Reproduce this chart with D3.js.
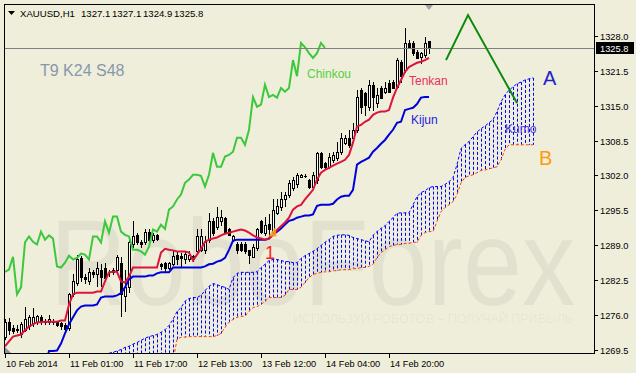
<!DOCTYPE html>
<html><head><meta charset="utf-8">
<script src="https://cdn.jsdelivr.net/npm/d3@7"></script>
<style>
html,body{margin:0;padding:0;background:#efeedb;}
svg{display:block;}
text{font-family:"Liberation Sans",Arial,sans-serif;}
</style></head><body>
<svg id="c" width="636" height="373"></svg>
<script>
// ---------- DATA (XAUUSD H1) ----------
const opens = [1271.8,1274.6,1273.6,1273.1,1272.3,1273.2,1273.8,1274.4,1274.6,1275.5,
1274.7,1274.6,1274.9,1274.6,1274.4,1274.0,1273.6,1279.8,1282.0,1286.5,
1283.1,1282.2,1283.9,1283.5,1284.4,1284.8,1283.9,1283.9,1284.4,1285.7,
1279.4,1281.1,1289.1,1290.9,1289.6,1289.5,1291.5,1290.0,1290.8,1285.4,
1285.7,1284.8,1285.4,1287.2,1287.0,1286.3,1286.3,1287.0,1287.8,1288.1,
1288.1,1290.0,1293.4,1292.4,1293.4,1294.1,1291.9,1290.0,1289.1,1289.1,
1289.1,1288.1,1286.8,1288.5,1293.4,1291.3,1293.0,1291.5,1295.0,1296.0,
1297.5,1298.4,1299.7,1300.3,1301.7,1301.9,1301.2,1299.9,1301.2,1306.2,
1304.3,1303.6,1304.9,1305.3,1306.4,1308.1,1309.0,1309.0,1310.5,1317.9,
1317.4,1314.8,1318.9,1315.5,1318.3,1317.6,1319.3,1319.4,1318.5,1323.2,
1321.7,1326.7,1326.7,1325.0,1324.1,1324.5,1327.1];
const highs = [1275.1,1275.3,1274.0,1274.0,1274.6,1277.5,1275.9,1277.3,1276.0,1276.0,
1275.1,1276.0,1275.1,1274.9,1274.7,1274.4,1280.1,1283.5,1287.2,1287.0,
1283.5,1284.8,1284.4,1285.9,1285.4,1285.7,1284.4,1284.8,1287.2,1286.8,
1284.4,1290.0,1293.4,1291.3,1290.0,1291.9,1291.9,1291.3,1291.1,1285.7,
1285.9,1285.9,1287.8,1287.8,1287.6,1287.8,1287.8,1287.2,1291.9,1291.9,
1290.6,1295.0,1294.1,1296.0,1295.6,1294.3,1292.2,1290.9,1289.5,1289.6,
1289.5,1288.1,1289.1,1292.2,1293.7,1294.3,1294.7,1297.5,1297.5,1298.8,
1298.9,1301.2,1301.7,1302.5,1302.3,1302.3,1301.4,1302.7,1306.4,1306.4,
1304.5,1306.2,1306.4,1308.3,1309.9,1309.6,1310.5,1311.8,1317.9,1318.3,
1317.6,1319.8,1319.4,1318.3,1318.7,1319.4,1319.8,1319.8,1323.9,1323.5,
1329.5,1327.3,1327.1,1325.4,1325.0,1327.8,1327.1];
const lows = [1271.4,1272.3,1272.5,1272.7,1271.9,1272.9,1273.4,1273.8,1274.2,1274.2,
1274.2,1274.2,1274.2,1273.8,1273.4,1273.1,1273.2,1279.4,1281.6,1282.2,
1282.0,1281.8,1283.1,1281.3,1281.3,1282.2,1283.3,1283.5,1283.9,1275.7,
1276.6,1280.3,1288.7,1289.1,1288.7,1289.1,1289.5,1289.5,1290.0,1284.6,
1284.1,1284.6,1285.2,1285.4,1285.0,1285.7,1286.1,1286.1,1287.6,1287.8,
1287.6,1289.6,1290.9,1291.9,1292.8,1291.3,1290.8,1289.8,1287.6,1287.8,
1287.6,1285.7,1286.8,1288.1,1291.3,1290.9,1290.6,1290.9,1294.7,1295.6,
1296.2,1298.0,1299.3,1299.9,1301.6,1301.6,1299.7,1299.7,1300.6,1303.4,
1303.4,1303.4,1304.5,1304.9,1306.0,1307.9,1307.3,1308.6,1310.1,1313.7,
1313.3,1314.2,1314.2,1314.8,1316.5,1317.4,1317.6,1318.3,1318.3,1319.4,
1321.3,1325.8,1324.5,1323.9,1323.0,1324.1,1324.9];
const closes = [1274.6,1273.2,1272.9,1273.4,1274.2,1275.1,1275.5,1275.5,1275.7,1274.6,
1274.6,1275.1,1274.6,1274.1,1273.8,1273.4,1279.8,1282.2,1286.3,1283.1,
1282.6,1284.0,1283.5,1284.8,1283.1,1282.9,1284.0,1284.4,1286.8,1279.8,
1281.1,1289.5,1290.6,1289.6,1289.1,1291.5,1290.0,1290.8,1290.2,1285.0,
1284.8,1285.7,1287.0,1286.3,1286.6,1287.4,1287.2,1286.3,1290.6,1290.6,
1289.5,1293.4,1291.3,1294.3,1294.3,1291.5,1290.9,1290.6,1288.1,1288.1,
1287.8,1287.2,1288.7,1291.9,1291.5,1292.8,1292.0,1295.6,1296.2,1297.5,
1298.4,1300.6,1301.2,1302.1,1302.1,1301.9,1299.9,1302.1,1306.2,1303.6,
1303.6,1305.5,1305.8,1306.4,1309.0,1309.0,1307.7,1310.5,1316.6,1314.8,
1315.2,1318.9,1316.6,1317.0,1316.5,1318.3,1317.6,1318.3,1323.5,1320.5,
1326.7,1325.9,1324.8,1323.9,1324.8,1326.7,1325.8];
const tenkan = [1270.1,1271.0,1271.9,1272.1,1272.3,1273.1,1273.8,1274.2,1274.6,1274.6,
1274.7,1274.7,1274.7,1274.7,1274.9,1274.9,1277.9,1279.8,1280.1,1280.1,
1280.1,1280.1,1280.1,1280.3,1280.3,1282.2,1283.9,1284.0,1284.0,1282.2,
1282.0,1283.1,1284.8,1284.8,1284.8,1284.8,1284.8,1284.8,1284.8,1287.6,
1288.3,1288.1,1288.0,1287.8,1287.8,1287.8,1287.6,1286.1,1287.2,1288.3,
1289.6,1290.0,1290.2,1290.4,1290.8,1291.1,1291.3,1291.5,1291.7,1291.9,
1291.7,1291.3,1290.8,1290.4,1290.2,1290.0,1290.2,1290.9,1291.8,1292.5,
1293.2,1294.1,1295.6,1296.2,1296.5,1297.5,1298.4,1299.3,1301.2,1302.5,
1303.0,1303.4,1303.8,1304.2,1304.5,1304.9,1305.8,1308.1,1311.1,1311.4,
1312.0,1312.4,1313.3,1313.7,1313.9,1313.9,1314.2,1316.5,1318.3,1319.8,
1321.3,1322.2,1322.6,1323.0,1323.2,1323.5,1323.9];
const kijun = [1266.5,1266.5,1266.5,1266.5,1266.5,1266.5,1266.5,1266.5,1266.5,1266.5,
1266.5,1269.2,1269.2,1269.3,1270.6,1272.5,1274.2,1275.5,1276.8,1277.5,
1277.7,1277.7,1277.7,1277.9,1279.2,1279.4,1279.4,1279.4,1279.6,1280.0,
1281.1,1282.6,1283.1,1283.1,1283.1,1283.1,1283.3,1283.3,1283.7,1283.9,
1283.9,1283.9,1284.8,1284.8,1284.8,1284.8,1284.8,1284.8,1284.8,1284.8,
1285.0,1285.4,1285.5,1285.9,1286.1,1286.6,1288.1,1289.8,1290.0,1290.0,
1290.0,1290.0,1290.0,1290.0,1290.0,1290.0,1290.2,1290.9,1291.5,1292.1,
1292.8,1293.5,1293.7,1294.1,1294.3,1294.5,1294.5,1294.7,1296.3,1296.5,
1296.5,1296.5,1296.7,1297.5,1298.0,1298.2,1298.2,1299.3,1304.0,1304.5,
1304.9,1305.3,1306.4,1307.1,1307.9,1308.6,1309.6,1310.5,1311.8,1312.0,
1314.2,1314.4,1314.6,1315.3,1316.5,1316.6,1316.6];
const senkouStart = 26;   // first bar index of the cloud arrays
const senkouA = [1268.8,1269.0,1269.2,1269.5,1269.9,1270.1,1270.5,1270.8,1271.2,1271.6,
1271.9,1272.1,1272.3,1272.7,1273.2,1274.0,1275.1,1276.6,1277.3,1278.5,
1279.0,1279.2,1279.2,1279.6,1280.5,1281.3,1281.8,1281.6,1281.3,1281.1,
1280.7,1282.9,1283.7,1283.9,1283.9,1283.9,1283.9,1284.0,1284.8,1285.4,
1286.1,1286.3,1286.3,1286.1,1285.9,1285.9,1285.7,1285.7,1286.5,1287.0,
1287.4,1287.8,1288.3,1288.9,1289.5,1290.0,1290.6,1290.8,1290.9,1290.9,
1290.8,1290.4,1290.2,1290.0,1289.8,1289.6,1290.8,1291.5,1292.1,1292.6,
1293.4,1294.1,1294.9,1295.0,1295.0,1295.0,1296.5,1298.0,1298.8,1299.1,
1299.7,1299.9,1299.9,1299.9,1300.3,1300.8,1301.6,1304.0,1307.0,1307.7,
1308.3,1309.2,1310.1,1310.7,1311.2,1311.8,1312.4,1313.9,1315.7,1317.0,
1317.9,1318.5,1319.1,1319.4,1319.8,1320.0,1320.2];
const senkouB = [1265.5,1265.5,1265.5,1265.5,1265.5,1265.5,1265.5,1265.5,1265.5,1265.5,
1265.5,1265.5,1265.5,1265.5,1265.5,1265.5,1267.3,1271.4,1271.8,1271.8,
1271.9,1271.9,1271.9,1271.9,1271.9,1271.9,1271.9,1272.1,1272.5,1273.6,
1274.6,1275.1,1275.5,1275.7,1275.7,1276.6,1277.3,1277.5,1277.9,1278.5,
1279.2,1279.2,1279.2,1279.2,1279.6,1280.7,1280.7,1280.7,1281.1,1282.0,
1282.9,1283.5,1283.7,1283.9,1284.0,1284.0,1284.2,1284.2,1284.4,1284.4,
1284.4,1284.6,1284.6,1284.8,1284.8,1285.0,1285.4,1286.6,1287.6,1288.1,
1288.7,1288.9,1289.1,1289.1,1289.3,1289.3,1289.5,1289.5,1290.8,1291.3,
1291.5,1291.5,1293.4,1295.2,1296.0,1296.5,1297.1,1298.4,1300.6,1301.6,
1301.9,1302.1,1302.5,1302.9,1303.0,1303.2,1303.4,1303.6,1304.9,1306.8,
1307.7,1307.7,1307.7,1307.7,1307.7,1307.7,1307.7];
const chinkouShift = 26;  // Chinkou = close plotted this many bars back
const priceTicks = [1328.0,1321.5,1315.0,1308.5,1302.0,1295.5,1289.0,1282.5,1276.0,1269.5];
const timeTickBars = [0,16,32,48,64,80,96];
const timeTickLabels = ["10 Feb 2014","11 Feb 01:00","11 Feb 17:00","12 Feb 13:00","13 Feb 12:00","14 Feb 04:00","14 Feb 20:00"];
const bidPrice = 1325.8;
const headerValues = ["1327.1","1327.1","1324.9","1325.8"];
// forecast zig-zag (bar index, price)
const forecastBars = [110.25, 115.75, 128];
const forecastPrices = [1323.5, 1331.9, 1315.5];

// ---------- SCALES ----------
const x = d3.scaleLinear().domain([0, 132]).range([5, 533]);
const y = d3.scaleLinear().domain([1269.5, 1328.0]).range([349.5, 36]);

const svg = d3.select("#c");
const BG = "#efeedb";
svg.append("rect").attr("width",636).attr("height",373).attr("fill",BG);
svg.append("defs").append("clipPath").attr("id","plot")
  .append("rect").attr("x",5).attr("y",5).attr("width",589).attr("height",348);

const plot = svg.append("g").attr("clip-path","url(#plot)");

// watermark
plot.append("text").attr("x",50).attr("y",305).attr("font-size",122)
  .attr("textLength",525).attr("lengthAdjust","spacingAndGlyphs")
  .attr("fill","#000").attr("fill-opacity",0.05).text("RoboForex");
plot.append("text").attr("x",293).attr("y",323).attr("font-size",13)
  .attr("textLength",280).attr("lengthAdjust","spacingAndGlyphs")
  .attr("fill","#000").attr("fill-opacity",0.05).text("ИСПОЛЬЗУЙ РОБОТОВ – ПОЛУЧАЙ ПРИБЫЛЬ");

// cloud hatch
const cloud = senkouA.map((a,k)=>({i:senkouStart+k, a, b:senkouB[k]}));
plot.append("g").selectAll("line").data(cloud).join("line")
  .attr("x1",d=>Math.round(x(d.i))+0.5).attr("x2",d=>Math.round(x(d.i))+0.5)
  .attr("y1",d=>y(Math.max(d.a,d.b))).attr("y2",d=>y(Math.min(d.a,d.b)))
  .attr("stroke","#0000ff").attr("stroke-width",1).attr("stroke-dasharray","3,2");
const line = d3.line().x(d=>x(d[0])).y(d=>y(d[1]));
plot.append("path").attr("d",line(cloud.map(d=>[d.i,d.a])))
  .attr("fill","none").attr("stroke","#0000ff").attr("stroke-width",1).attr("stroke-dasharray","3,2");
plot.append("path").attr("d",line(cloud.map(d=>[d.i,d.b])))
  .attr("fill","none").attr("stroke","#ff4500").attr("stroke-width",1).attr("stroke-dasharray","3,2");

// candles
const bars = opens.map((o,i)=>({i,o,h:highs[i],l:lows[i],c:closes[i]}));
const cg = plot.append("g");
bars.forEach(d=>{
  const cx = Math.round(x(d.i));
  const yh = Math.round(y(d.h)), yl = Math.round(y(d.l));
  const yo = Math.round(y(d.o)), yc = Math.round(y(d.c));
  const top = Math.min(yo,yc), bot = Math.max(yo,yc);
  cg.append("rect").attr("x",cx).attr("y",yh).attr("width",1).attr("height",Math.max(1,yl-yh+1)).attr("fill","#000");
  cg.append("rect").attr("x",cx-1).attr("y",top).attr("width",3).attr("height",bot-top+1).attr("fill","#000");
  if (d.c > d.o && bot-top >= 2)
    cg.append("rect").attr("x",cx).attr("y",top+1).attr("width",1).attr("height",bot-top-1).attr("fill","#fff");
});

// chinkou, kijun, tenkan
const chinkou = closes.map((c,j)=>[j-chinkouShift,c]).filter(d=>d[0]>=0);
plot.append("path").attr("d",line(chinkou)).attr("fill","none").attr("stroke","#3cc83c").attr("stroke-width",2);
plot.append("path").attr("d",line(kijun.map((v,i)=>[i,v]))).attr("fill","none").attr("stroke","#0000dd").attr("stroke-width",2);
plot.append("path").attr("d",line(tenkan.map((v,i)=>[i,v]))).attr("fill","none").attr("stroke","#dc143c").attr("stroke-width",2);

// bid line
plot.append("line").attr("x1",5).attr("x2",594).attr("y1",Math.round(y(bidPrice))+0.5).attr("y2",Math.round(y(bidPrice))+0.5)
  .attr("stroke","#808080").attr("stroke-width",1);

// orange mark near cross
plot.append("path").attr("d",line([[65.8,1290.6],[67.6,1292.4],[67.9,1290.6]])+"Z").attr("fill","#ffa020").attr("fill-opacity",0.85);

// forecast zig-zag
plot.append("path").attr("d",line(forecastBars.map((b,k)=>[b,forecastPrices[k]])))
  .attr("fill","none").attr("stroke","#0a8a0a").attr("stroke-width",2);

// labels
const lab = (i,p,t,col,fs)=>plot.append("text").attr("x",x(i)).attr("y",y(p)).attr("font-size",fs).attr("fill",col).text(t);
lab(75.5,1320.2,"Chinkou","#55d040",12);
lab(101,1318.9,"Tenkan","#e8305a",12);
lab(101.5,1311.6,"Kijun","#2222e0",12);
lab(125,1309.9,"Kumo","#4a3ae0",12);
lab(134.5,1318.9,"A","#2222cc",20);
lab(133.5,1304.0,"B","#ff9a10",20);
lab(65,1286.3,"1","#ff2020",18);

svg.append("text").attr("x",40).attr("y",76).attr("font-size",16).attr("fill","#8797ad").text("T9 K24 S48");

// markers
const lastX = Math.round(x(opens.length-1));
svg.append("path").attr("d",`M${lastX-4},5L${lastX+4},5L${lastX},10Z`).attr("fill","#a0a0a0");
svg.append("path").attr("d","M5,347L5,353L11,353Z").attr("fill","#909090");

// frame
svg.append("rect").attr("x",4.5).attr("y",4.5).attr("width",590).attr("height",349)
  .attr("fill","none").attr("stroke","#000").attr("stroke-width",1);

// price axis
const pa = svg.append("g");
priceTicks.forEach(v=>{
  const yy = Math.round(y(v))+0.5;
  pa.append("line").attr("x1",595).attr("x2",598).attr("y1",yy).attr("y2",yy).attr("stroke","#000");
  pa.append("text").attr("x",600).attr("y",yy+3.5).attr("font-size",9.3).attr("fill","#000").text(v.toFixed(1));
});
const by = Math.round(y(bidPrice));
pa.append("rect").attr("x",596).attr("y",by-6).attr("width",38).attr("height",12).attr("fill","#000");
pa.append("text").attr("x",600).attr("y",by+3.5).attr("font-size",9.3).attr("fill","#fff").text(bidPrice.toFixed(1));

// time axis
timeTickBars.forEach((b,k)=>{
  const xx = Math.round(x(b))+0.5;
  svg.append("line").attr("x1",xx).attr("x2",xx).attr("y1",354).attr("y2",358).attr("stroke","#000");
  svg.append("text").attr("x",xx+0.5).attr("y",366.5).attr("font-size",9.2).attr("fill","#000").text(timeTickLabels[k]);
});

// header
svg.append("path").attr("d","M8,11L15,11L11.5,15Z").attr("fill","#000");
svg.append("text").attr("x",20).attr("y",16.5).attr("font-size",9.6).attr("fill","#000").text("XAUUSD,H1");
headerValues.forEach((t,k)=>svg.append("text").attr("x",81+k*31).attr("y",16.5).attr("font-size",9.6).attr("fill","#000").text(t));
</script>
</body></html>
